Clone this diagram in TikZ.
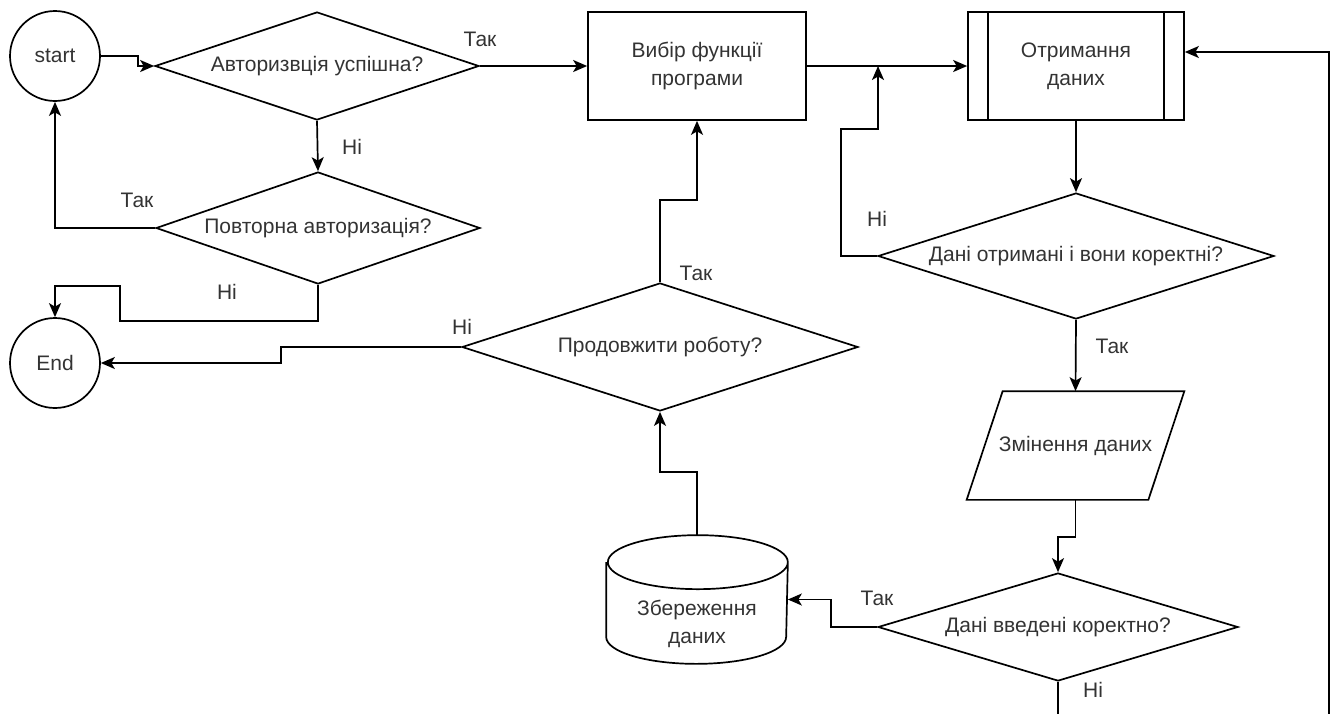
\documentclass[tikz,border=0pt]{standalone}
\usepackage{fontspec}
\setmainfont{Liberation Sans}
\usetikzlibrary{shapes.geometric,arrows.meta}
\definecolor{ink}{HTML}{333333}

\begin{document}
\begin{tikzpicture}[x=1pt,y=-1pt,line width=1.7pt,
  font=\fontsize{21}{28}\selectfont,text=ink,
  >={Stealth[length=14pt,width=12pt,inset=3.5pt]},
  terminal/.style={circle,draw,minimum size=90pt,inner sep=0pt},
  decision/.style={diamond,draw,inner sep=0pt,aspect=3},
  process/.style={rectangle,draw,minimum width=218pt,minimum height=108pt,align=center},
  answer/.style={inner sep=0pt},
  flow/.style={->}]
  \useasboundingbox (0,0) rectangle (1335,713);
  \clip (0,0) rectangle (1335,713);

  \node[terminal] (start) at (55,56) {start};
  \node[terminal] (stop) at (55,363) {End};
  \node[decision,minimum width=324pt,minimum height=108pt] (auth) at (317,66) {Авторизвція успішна?};
  \node[decision,minimum width=324pt,minimum height=112pt] (retry) at (318,228) {Повторна авторизація?};
  \node[decision,minimum width=396pt,minimum height=128pt] (proceed) at (660,347) {Продовжити роботу?};
  \node[process] (choose) at (697,66) {Вибір функції\\програми};
  \node[process,minimum width=216pt] (fetch) at (1076,66) {Отримання\\даних};
  \draw ([xshift=21pt]fetch.north west) -- ([xshift=21pt]fetch.south west)
        ([xshift=-21pt]fetch.north east) -- ([xshift=-21pt]fetch.south east);
  \node[decision,minimum width=396pt,minimum height=126pt] (check) at (1076,256) {Дані отримані і вони коректні?};
  \node[minimum width=180pt,minimum height=107pt] (edit) at (1075.5,445.5) {Змінення даних};
  \draw ([xshift=18pt]edit.north west) -- ([xshift=18pt]edit.north east)
        -- ([xshift=-18pt]edit.south east) -- ([xshift=-18pt]edit.south west) -- cycle;
  \node[decision,minimum width=360pt,minimum height=108pt] (valid) at (1058,627) {Дані введені коректно?};
  \node[minimum width=180pt,minimum height=127pt] (store) at (697,599.5) {};
  \draw ([yshift=-27pt]store.north west) -- ([yshift=27pt]store.south west)
        arc[start angle=180,end angle=360,x radius=90pt,y radius=27pt]
        -- ([yshift=-27pt]store.north east)
        arc[start angle=0,end angle=180,x radius=90pt,y radius=27pt]
        arc[start angle=180,end angle=360,x radius=90pt,y radius=27pt];
  \node[align=center] (storetext) at (697,624) {Збереження\\даних};

  \coordinate (merge) at (878,66);
  \coordinate (rail) at (1329,740);

  \draw[flow] (start.east) -- ++(37,0) |- (auth.west);
  \draw[flow] (auth.east) -- (choose.west);
  \draw[flow] (auth.south) -- (retry.north);
  \draw[flow] (retry.west) -| (start.south);
  \draw[flow] (retry.south) -- ++(0,36) -- ++(-198,0) -- ++(0,-35) -| (stop.north);
  \draw[flow] (proceed.west) -- ++(-180,0) |- (stop.east);
  \draw[flow] (proceed.north) -- ++(0,-82) -| (choose.south);
  \draw[flow] (choose.east) -- (fetch.west);
  \draw[flow] (check.west) -- ++(-36,0) -- ++(0,-127) -| (merge);
  \draw[flow] (fetch.south) -- (check.north);
  \draw[flow] (check.south) -- (edit.north);
  \draw[flow] (edit.south) -- ++(0,37) -| (valid.north);
  \draw[flow] (valid.west) -- ++(-46,0) |- (store.east);
  \draw[flow] (store.north) -- ++(0,-63) -| (proceed.south);
  \draw[flow] (valid.south) |- (rail) |- ([yshift=14pt]fetch.east);

  \node[answer] (yesauth) at (480,39) {Так};
  \node[answer] (noauth) at (352,147) {Ні};
  \node[answer] (yesretry) at (137,200) {Так};
  \node[answer] (noretry) at (227,292) {Ні};
  \node[answer] (noproceed) at (462,327) {Ні};
  \node[answer] (yesproceed) at (696,273) {Так};
  \node[answer] (nocheck) at (877,219) {Ні};
  \node[answer] (yescheck) at (1112,346) {Так};
  \node[answer] (yesvalid) at (877,598) {Так};
  \node[answer] (novalid) at (1093,690) {Ні};
\end{tikzpicture}
\end{document}
